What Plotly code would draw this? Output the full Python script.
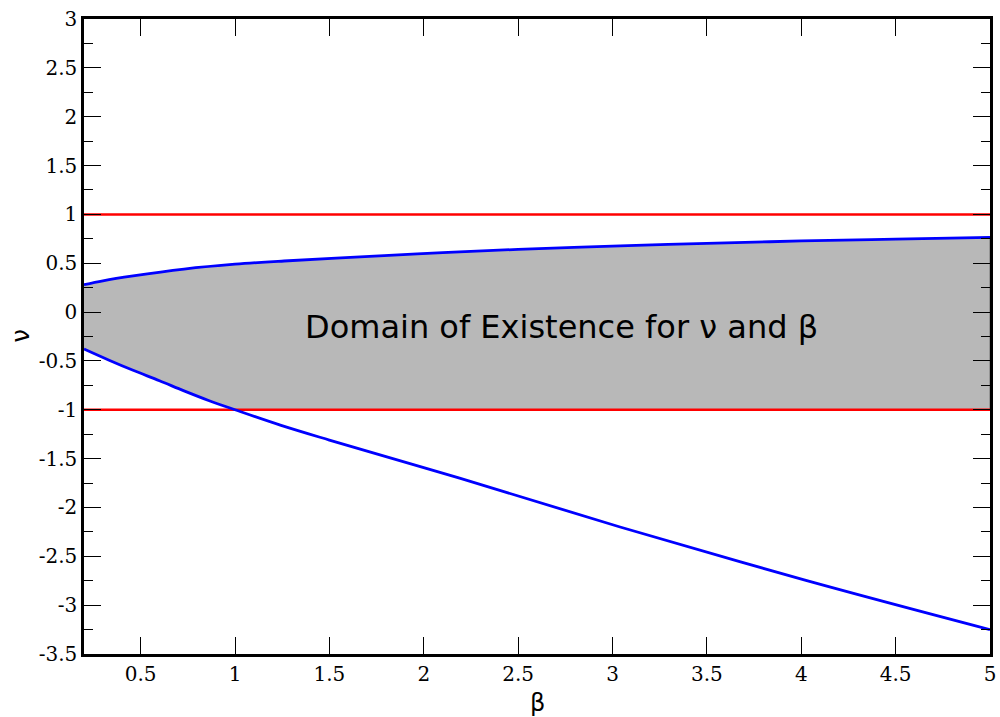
import plotly.graph_objects as go

# Upper branch of the domain boundary (blue)
beta_upper = [0.2, 0.3, 0.46, 0.73, 1.0, 1.26, 1.79, 2.1, 2.5, 3.04, 3.5, 4.0, 4.5, 5.0]
nu_upper = [0.28, 0.32, 0.37, 0.44, 0.49, 0.523, 0.578, 0.608, 0.642, 0.678, 0.703, 0.728, 0.747, 0.765]

# Lower branch of the domain boundary (blue)
beta_lower = [0.2, 0.33, 0.46, 0.6, 0.73, 0.86, 1.0, 1.24, 1.5, 2.19, 3.04, 4.02, 5.0]
nu_lower = [-0.378, -0.49, -0.596, -0.703, -0.807, -0.905, -1.0, -1.157, -1.31, -1.70, -2.20, -2.743, -3.25]

# Horizontal limits (red)
nu_limits = [1.0, -1.0]
beta_span = [0.2, 5.0]

# Axis ticks
x_tickvals = [0.5, 1, 1.5, 2, 2.5, 3, 3.5, 4, 4.5, 5]
x_ticktext = ["0.5", "1", "1.5", "2", "2.5", "3", "3.5", "4", "4.5", "5"]
y_tickvals = [3, 2.5, 2, 1.5, 1, 0.5, 0, -0.5, -1, -1.5, -2, -2.5, -3, -3.5]
y_ticktext = ["3", "2.5", "2", "1.5", "1", "0.5", "0", "-0.5", "-1", "-1.5", "-2", "-2.5", "-3", "-3.5"]
y_minor = [2.75, 2.25, 1.75, 1.25, 0.75, 0.25, -0.25, -0.75, -1.25, -1.75, -2.25, -2.75, -3.25]

label_text = "Domain of Existence for ν and β"
x_title = "β"
y_title = "ν"

# Build fill polygon: upper curve forward, then max(lower, -1) backward
floor = nu_limits[1]
bottom_x = [b for b in beta_lower if b <= 1.0] + [beta_span[1]]
bottom_y = [max(v, floor) for b, v in zip(beta_lower, nu_lower) if b <= 1.0] + [floor]
poly_x = beta_upper + bottom_x[::-1]
poly_y = nu_upper + bottom_y[::-1]

fig = go.Figure()
fig.add_trace(go.Scatter(x=poly_x, y=poly_y, fill="toself", fillcolor="#b8b8b8",
                         mode="lines", line=dict(color="#707070", width=1),
                         hoverinfo="skip", showlegend=False))
for v in nu_limits:
    fig.add_trace(go.Scatter(x=beta_span, y=[v, v], mode="lines",
                             line=dict(color="#ff0000", width=2.5), showlegend=False))
fig.add_trace(go.Scatter(x=beta_upper, y=nu_upper, mode="lines", line_shape="spline",
                         line=dict(color="#0000ff", width=2.8), showlegend=False))
fig.add_trace(go.Scatter(x=beta_lower, y=nu_lower, mode="lines", line_shape="spline",
                         line=dict(color="#0000ff", width=2.8), showlegend=False))

fig.add_annotation(x=2.73, y=-0.15, text=label_text, showarrow=False,
                   font=dict(family="DejaVu Sans", size=32, color="#000000"))

# Axis titles placed as annotations relative to the plot area
fig.add_annotation(xref="paper", yref="paper", x=0.5, y=-0.077, text=x_title,
                   showarrow=False, xanchor="center", yanchor="middle",
                   font=dict(family="DejaVu Sans", size=24, color="#000"))
fig.add_annotation(xref="paper", yref="paper", x=-0.0706, y=0.5, text=y_title,
                   showarrow=False, xanchor="center", yanchor="middle", textangle=-90,
                   font=dict(family="DejaVu Sans", size=24, color="#000"))

tickfont = dict(family="DejaVu Serif", size=20, color="#000000")
fig.update_xaxes(range=[0.2, 5.0], tickvals=x_tickvals, ticktext=x_ticktext,
                 ticks="inside", ticklen=17, tickwidth=1.2, tickcolor="#000",
                 showline=True, linewidth=2.5, linecolor="#000", mirror="ticks",
                 showgrid=False, zeroline=False, tickfont=tickfont, automargin=False)
fig.update_yaxes(range=[-3.5, 3.0], tickvals=y_tickvals, ticktext=y_ticktext,
                 ticks="inside", ticklen=17, tickwidth=1.2, tickcolor="#000",
                 minor=dict(tickvals=y_minor, ticks="inside", ticklen=9, tickwidth=1.2, tickcolor="#000"),
                 showline=True, linewidth=2.5, linecolor="#000", mirror="ticks",
                 showgrid=False, zeroline=False, tickfont=tickfont, automargin=False)

fig.update_layout(width=1000, height=717, margin=dict(l=84, r=10, t=19, b=63),
                  plot_bgcolor="white", paper_bgcolor="white", showlegend=False)

fig.write_html("out.html")
